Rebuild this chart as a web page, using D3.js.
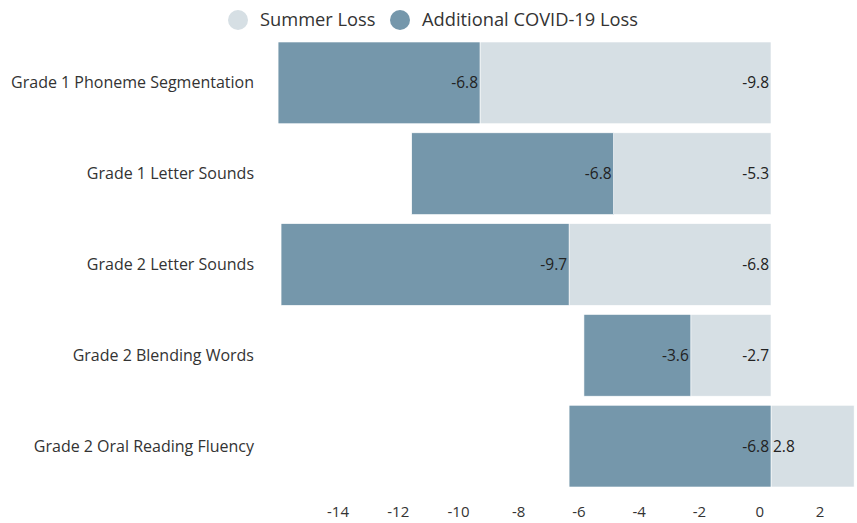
<!DOCTYPE html>
<html>
<head>
<meta charset="utf-8">
<script src="https://cdn.jsdelivr.net/npm/d3@7"></script>
<style>
  body { margin: 0; background: #fff; }
  text { font-family: "Open Sans", sans-serif; fill: #333; }
</style>
</head>
<body>
<div id="chart"></div>
<script>
/* DATA */
const categories = [
  "Grade 1 Phoneme Segmentation",
  "Grade 1 Letter Sounds",
  "Grade 2 Letter Sounds",
  "Grade 2 Blending Words",
  "Grade 2 Oral Reading Fluency"
];
const summerLoss = [-9.8, -5.3, -6.8, -2.7, 2.8];
const covidLoss = [-6.8, -6.8, -9.7, -3.6, -6.8];
const seriesNames = ["Summer Loss", "Additional COVID-19 Loss"];
const tickValues = [-14, -12, -10, -8, -6, -4, -2, 0, 2];

/* CONSTANTS */
const width = 857, height = 523;
const colors = ["#d6dfe4", "#7597ab"];

const rows = categories.map((c, i) => ({ cat: c, summer: summerLoss[i], covid: covidLoss[i] }));

const stacked = d3.stack()
  .keys(["summer", "covid"])
  .offset(d3.stackOffsetDiverging)(rows);

const x = d3.scaleLinear().domain([-9.8, 0]).range([480, 771]);
// scale for the tick labels, which sit slightly offset from the bars in the original
const xTicks = d3.scaleLinear().domain([-14, 2]).range([338, 820]);

const y = d3.scaleBand()
  .domain(categories)
  .range([42, 487])
  .paddingInner(0.1)
  .paddingOuter(0);

const svg = d3.select("#chart").append("svg")
  .attr("width", width)
  .attr("height", height);

/* LEGEND */
const legendX = [238, 400];
const legend = svg.append("g");
seriesNames.forEach((name, i) => {
  legend.append("circle")
    .attr("cx", legendX[i]).attr("cy", 20).attr("r", 10)
    .attr("fill", colors[i]);
  legend.append("text")
    .attr("x", legendX[i] + 22).attr("y", 20)
    .attr("dy", "0.35em")
    .style("font-size", "18.3px")
    .text(name);
});

/* BARS */
const layers = svg.selectAll("g.layer")
  .data(stacked)
  .join("g")
  .attr("class", "layer")
  .attr("fill", (d, i) => colors[i]);

layers.selectAll("rect")
  .data(d => d)
  .join("rect")
  .attr("x", d => x(Math.min(d[0], d[1])))
  .attr("width", d => Math.abs(x(d[1]) - x(d[0])))
  .attr("y", d => y(d.data.cat))
  .attr("height", y.bandwidth())
  .attr("stroke", "#fff")
  .attr("stroke-width", 0.6);

/* VALUE LABELS */
layers.selectAll("text")
  .data((d) => d.map(v => ({ v, key: d.key })))
  .join("text")
  .attr("x", d => {
    const val = d.v.data[d.key];
    return val < 0 ? x(Math.max(d.v[0], d.v[1])) - 2 : x(Math.min(d.v[0], d.v[1])) + 2;
  })
  .attr("text-anchor", d => d.v.data[d.key] < 0 ? "end" : "start")
  .attr("y", d => y(d.v.data.cat) + y.bandwidth() / 2)
  .attr("dy", "0.35em")
  .style("font-size", "15.5px")
  .style("fill", "#222")
  .text(d => d.v.data[d.key]);

/* CATEGORY LABELS */
svg.append("g")
  .selectAll("text")
  .data(categories)
  .join("text")
  .attr("x", 254)
  .attr("y", d => y(d) + y.bandwidth() / 2)
  .attr("dy", "0.35em")
  .attr("text-anchor", "end")
  .style("font-size", "16px")
  .text(d => d);

/* X AXIS LABELS */
svg.append("g")
  .selectAll("text")
  .data(tickValues)
  .join("text")
  .attr("x", d => xTicks(d))
  .attr("y", 512)
  .attr("dy", "0.35em")
  .attr("text-anchor", "middle")
  .style("font-size", "15px")
  .text(d => d);
</script>
</body>
</html>
